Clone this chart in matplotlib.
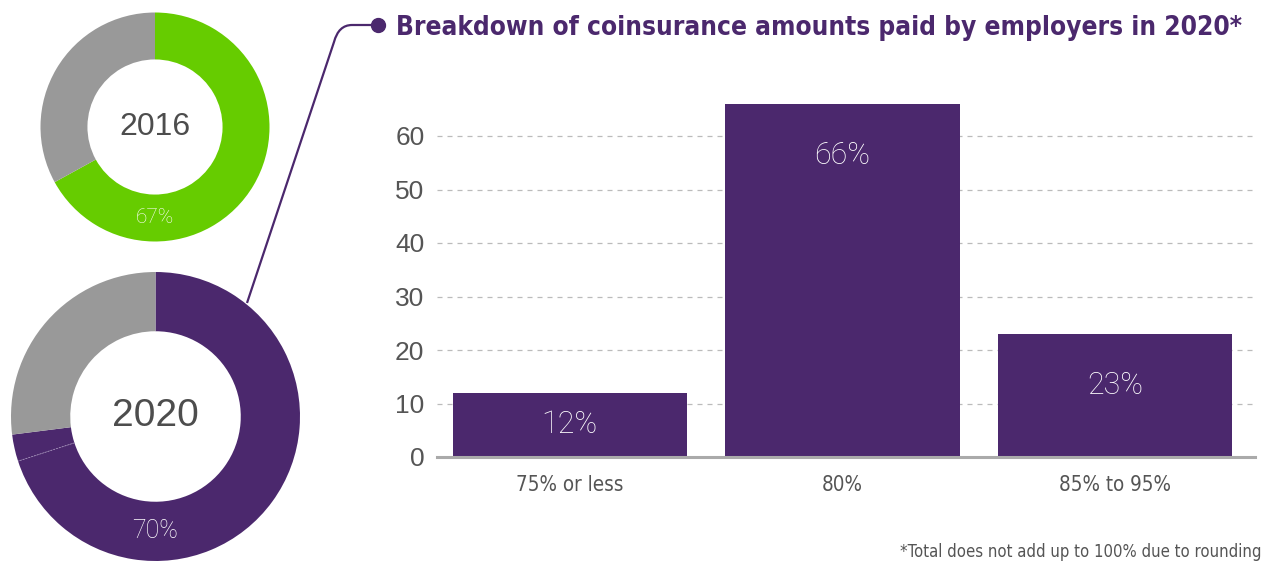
"""
Employer coinsurance: share of employers in 2016 and 2020 as donuts,
plus the 2020 breakdown of coinsurance amounts as a bar chart.
"""

import numpy as np
import matplotlib
matplotlib.use('Agg')
import matplotlib.pyplot as plt
from matplotlib.path import Path
from matplotlib.patches import PathPatch

W, H = 1264, 561

# 2020 breakdown of coinsurance amounts paid by employers
categories = ['75% or less', '80%', '85% to 95%']
shares_2020 = [12, 66, 23]
yticks = [0, 10, 20, 30, 40, 50, 60]

# donut splits (highlighted share first)
donut_2016 = [67, 33]
donut_2020 = [70, 3, 27]
year_labels = ['2016', '2020']

PURPLE = '#4b286d'
GREEN = '#66cc00'
GRAY = '#999999'
DARK = '#4d4d4d'
MID = '#555555'

COND = ['DejaVu Sans Condensed', 'DejaVu Sans']
HELV = ['Liberation Sans', 'DejaVu Sans']
LIGHT = ['Roboto', 'DejaVu Sans']


def px(left, top, width, height):
    """Figure rectangle from pixel box measured from the top-left corner."""
    return [left / W, 1 - (top + height) / H, width / W, height / H]


def donut(fig, box, values, colors, year, year_size, pct_size):
    ax = fig.add_axes(px(*box))
    ax.pie(values, colors=colors, startangle=90, counterclock=False,
           wedgeprops=dict(width=0.41, edgecolor='none'))
    ax.set_xlim(-1, 1)
    ax.set_ylim(-1, 1)
    ax.set_aspect('equal')
    ax.axis('off')
    ax.text(0, 0, year, ha='center', va='center', fontsize=year_size,
            color=DARK, family=HELV)
    ax.text(0, -0.79, '%d%%' % values[0], ha='center', va='center',
            fontsize=pct_size, color='white', family=LIGHT, weight='light')
    return ax


def graph_data():
    fig = plt.figure(figsize=(W / 100, H / 100), dpi=100)

    donut(fig, (40.5, 12.5, 229, 229), donut_2016, [GREEN, GRAY],
          year_labels[0], 23, 15)
    ax20 = donut(fig, (11, 272, 289, 289), donut_2020, [PURPLE, PURPLE, GRAY],
                 year_labels[1], 28, 18)
    # thin seam between the two purple slices
    ang = np.deg2rad(90 - 360 * donut_2020[0] / sum(donut_2020))
    ax20.plot([0.59 * np.cos(ang), np.cos(ang)], [0.59 * np.sin(ang), np.sin(ang)],
              color='#a08cb8', lw=0.6, ls=(0, (2, 1.5)))

    # bar chart
    ax = fig.add_axes(px(437, 82.5, 818, 374.5))
    x = np.arange(len(categories))
    ax.bar(x, shares_2020, width=0.86, color=PURPLE, zorder=2)
    ax.set_xlim(-0.487, 2.513)
    ax.set_ylim(0, 70)
    ax.set_yticks(yticks)
    ax.set_xticks(x)
    ax.set_xticklabels(categories)
    ax.yaxis.grid(True, ls=(0, (4, 4)), color='#bbbbbb', lw=0.9)
    ax.set_axisbelow(True)
    for s in ['top', 'right', 'left']:
        ax.spines[s].set_visible(False)
    ax.spines['bottom'].set_color('#aaaaaa')
    ax.spines['bottom'].set_linewidth(2.2)
    ax.tick_params(length=0)
    ax.tick_params(axis='y', pad=9, labelsize=19, labelcolor=MID)
    ax.tick_params(axis='x', pad=13, labelsize=14.8, labelcolor=MID)
    for lab in ax.get_yticklabels():
        lab.set_family(HELV)
    for lab in ax.get_xticklabels():
        lab.set_family(COND)
        lab.set_stretch('condensed')

    for xi, v in zip(x, shares_2020):
        ax.text(xi, max(v - 9.6, v / 2), '%d%%' % v, ha='center', va='center',
                fontsize=22, color='white', family=LIGHT, weight='light')

    # overlay in pixel coordinates for the title and its connector
    ov = fig.add_axes([0, 0, 1, 1])
    ov.set_xlim(0, W)
    ov.set_ylim(H, 0)
    ov.axis('off')
    verts = [(247, 303), (334, 42), (338.5, 25), (352, 25), (378, 25)]
    codes = [Path.MOVETO, Path.LINETO, Path.CURVE3, Path.CURVE3, Path.LINETO]
    ov.add_patch(PathPatch(Path(verts, codes), fill=False, edgecolor=PURPLE, lw=1.6))
    ov.plot([378], [25], 'o', ms=10, color=PURPLE)
    ov.text(396, 35, 'Breakdown of coinsurance amounts paid by employers in 2020*',
            ha='left', va='baseline', fontsize=18.8, color=PURPLE,
            family=COND, stretch='condensed', weight='bold')
    ov.text(1262, 557, '*Total does not add up to 100% due to rounding',
            ha='right', va='baseline', fontsize=12, color=MID,
            family=COND, stretch='condensed')

    fig.savefig('out.png', dpi=100)


if __name__ == '__main__':
    graph_data()
